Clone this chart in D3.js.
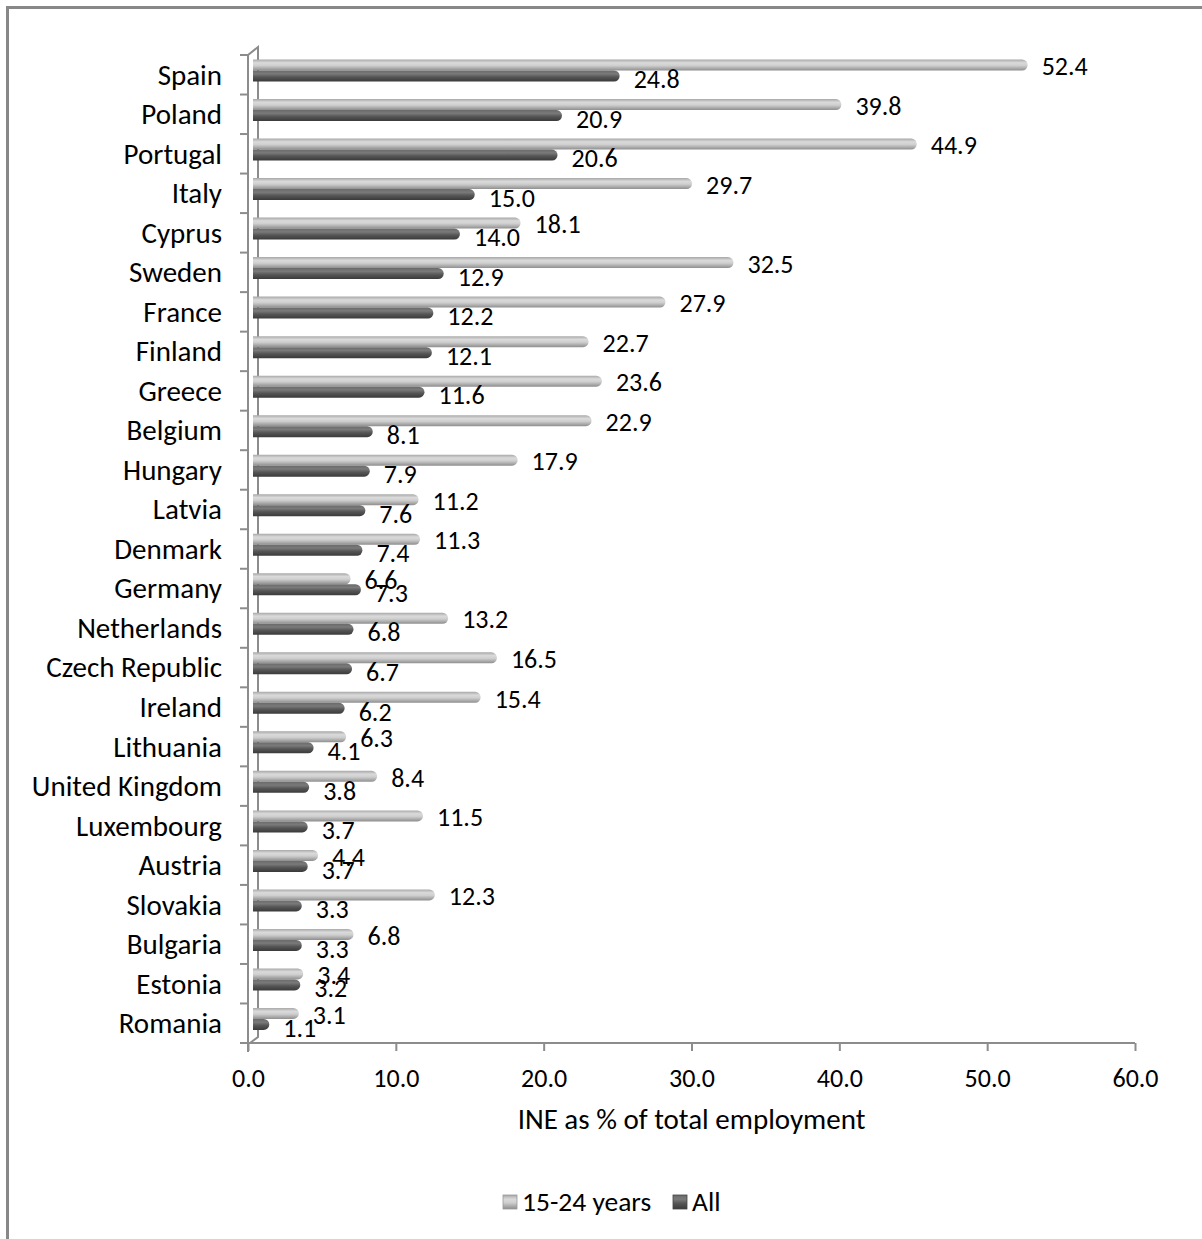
<!DOCTYPE html>
<html>
<head>
<meta charset="utf-8">
<script src="https://cdn.jsdelivr.net/npm/d3@7"></script>
<style>
  body { margin: 0; background: #fff; }
  text { font-family: Carlito, Calibri, "Open Sans", sans-serif; fill: #000; }
</style>
</head>
<body>
<div id="chart"></div>
<script>
// Data (top to bottom)
const countries = ['Spain', 'Poland', 'Portugal', 'Italy', 'Cyprus', 'Sweden', 'France', 'Finland',
  'Greece', 'Belgium', 'Hungary', 'Latvia', 'Denmark', 'Germany', 'Netherlands', 'Czech Republic',
  'Ireland', 'Lithuania', 'United Kingdom', 'Luxembourg', 'Austria', 'Slovakia', 'Bulgaria',
  'Estonia', 'Romania'];
const youth = [52.4, 39.8, 44.9, 29.7, 18.1, 32.5, 27.9, 22.7, 23.6, 22.9, 17.9, 11.2, 11.3, 6.6,
  13.2, 16.5, 15.4, 6.3, 8.4, 11.5, 4.4, 12.3, 6.8, 3.4, 3.1];
const all = [24.8, 20.9, 20.6, 15.0, 14.0, 12.9, 12.2, 12.1, 11.6, 8.1, 7.9, 7.6, 7.4, 7.3,
  6.8, 6.7, 6.2, 4.1, 3.8, 3.7, 3.7, 3.3, 3.3, 3.2, 1.1];
const xTicks = [0, 10, 20, 30, 40, 50, 60];
const seriesNames = ['15-24 years', 'All'];

const WIDTH = 1202, HEIGHT = 1239;
const FONT_WORDS = 29;   // category labels, axis title
const FONT_NUM = 26;     // numbers
const FONT_LEGEND = 27.5;
const FONT_FAMILY = 'Carlito, Calibri, "Open Sans", sans-serif';
const DEPTH = 5;      // 3D offset of bars
const BAR_H = 11;

const svg = d3.select('#chart').append('svg')
  .attr('width', WIDTH)
  .attr('height', HEIGHT);

// Chart border (runs past the picture on right and bottom)
svg.append('rect')
  .attr('x', 7.5).attr('y', 7.5)
  .attr('width', 1400).attr('height', 1400)
  .attr('fill', 'none')
  .attr('stroke', '#888')
  .attr('stroke-width', 3);

// Scales
const x = d3.scaleLinear().domain([0, 60]).range([248, 1135]);
const y = d3.scaleBand().domain(countries).range([55, 1043]).padding(0);

// Gradients for cylinder look
const defs = svg.append('defs');
function gradient(id, stops) {
  const g = defs.append('linearGradient').attr('id', id)
    .attr('x1', 0).attr('y1', 0).attr('x2', 0).attr('y2', 1);
  stops.forEach(s => g.append('stop').attr('offset', s[0]).attr('stop-color', s[1]));
}
gradient('gLight', [[0, '#a8a8a8'], [0.3, '#dadada'], [0.55, '#cfcfcf'], [1, '#8e8e8e']]);
gradient('gDark', [[0, '#6a6a6a'], [0.3, '#7a7a7a'], [0.6, '#555'], [1, '#3a3a3a']]);

// Axes lines
const axisColor = '#8c8c8c';
const axes = svg.append('g').attr('stroke', axisColor).attr('stroke-width', 2).attr('fill', 'none');

// back wall edge + joins
axes.append('path')
  .attr('d', `M${x(0)},${y.range()[0]} L${x(0) + 10},47 L${x(0) + 10},1037 L${x(0) + 2},1043`);
// front vertical axis
axes.append('line')
  .attr('x1', x(0)).attr('x2', x(0))
  .attr('y1', y.range()[0]).attr('y2', 1052);
// category tick marks
const bounds = countries.map(c => y(c)).concat([y.range()[1]]);
axes.selectAll('.ytick').data(bounds).enter().append('line')
  .attr('x1', 240).attr('x2', x(0))
  .attr('y1', d => d).attr('y2', d => d);

// Value axis
const xAxis = d3.axisBottom(x)
  .tickValues(xTicks)
  .tickSize(8)
  .tickPadding(18)
  .tickFormat(d3.format('.1f'));

const xg = svg.append('g')
  .attr('transform', `translate(0, ${y.range()[1]})`)
  .call(xAxis);
xg.select('.domain').attr('stroke', axisColor).attr('stroke-width', 2)
  .attr('d', `M${x(0) - 8},0H${x(60)}`);
xg.selectAll('.tick line').attr('stroke', axisColor).attr('stroke-width', 2);
xg.selectAll('.tick text')
  .attr('font-size', FONT_NUM)
  .style('font-family', FONT_FAMILY)
  .attr('fill', '#000');

// Category labels
svg.append('g').selectAll('text')
  .data(countries).enter().append('text')
  .attr('x', 222)
  .attr('y', d => y(d) + y.bandwidth() / 2 + 3)
  .attr('text-anchor', 'end')
  .attr('dominant-baseline', 'middle')
  .attr('font-size', FONT_WORDS)
  .text(d => d);

// Bars
function barPath(v, top) {
  const x0 = x(0) + DEPTH, x1 = x(v) + DEPTH, r = BAR_H / 2;
  const xe = Math.max(x0, x1 - r);
  return `M${x0},${top} H${xe} A${r},${r} 0 0 1 ${xe},${top + BAR_H} H${x0} Z`;
}

const rows = countries.map((c, i) => ({ country: c, youth: youth[i], all: all[i] }));

const bars = svg.append('g');
bars.selectAll('.youth').data(rows).enter().append('path')
  .attr('class', 'youth')
  .attr('d', d => barPath(d.youth, y(d.country) + 4.5))
  .attr('fill', 'url(#gLight)');
bars.selectAll('.all').data(rows).enter().append('path')
  .attr('class', 'all')
  .attr('d', d => barPath(d.all, y(d.country) + 4.5 + BAR_H))
  .attr('fill', 'url(#gDark)');

// Value labels
const labels = svg.append('g').attr('font-size', FONT_NUM);
labels.selectAll('.ly').data(rows).enter().append('text')
  .attr('x', d => x(d.youth) + DEPTH + 14)
  .attr('y', d => y(d.country) + 4.5 + BAR_H / 2 + 4)
  .attr('dominant-baseline', 'middle')
  .text(d => d.youth.toFixed(1));
labels.selectAll('.la').data(rows).enter().append('text')
  .attr('x', d => x(d.all) + DEPTH + 14)
  .attr('y', d => y(d.country) + 4.5 + BAR_H * 1.5 + 6)
  .attr('dominant-baseline', 'middle')
  .text(d => d.all.toFixed(1));

// Axis title
svg.append('text')
  .attr('x', (x(0) + x(60)) / 2)
  .attr('y', 1122)
  .attr('text-anchor', 'middle')
  .attr('dominant-baseline', 'middle')
  .attr('font-size', FONT_WORDS)
  .text('INE as % of total employment');

// Legend
const legend = svg.append('g').attr('transform', 'translate(503, 1202)');
const legendX = [0, 170];
const legendFill = ['url(#gLight)', 'url(#gDark)'];
seriesNames.forEach((name, i) => {
  const g = legend.append('g').attr('transform', `translate(${legendX[i]}, 0)`);
  g.append('rect')
    .attr('x', 0).attr('y', -7)
    .attr('width', 14).attr('height', 14)
    .attr('fill', legendFill[i])
    .attr('stroke', i === 0 ? '#999' : '#444')
    .attr('stroke-width', 0.8);
  g.append('text')
    .attr('x', 19)
    .attr('y', 2)
    .attr('dominant-baseline', 'middle')
    .attr('font-size', FONT_LEGEND)
    .text(name);
});
</script>
</body>
</html>
